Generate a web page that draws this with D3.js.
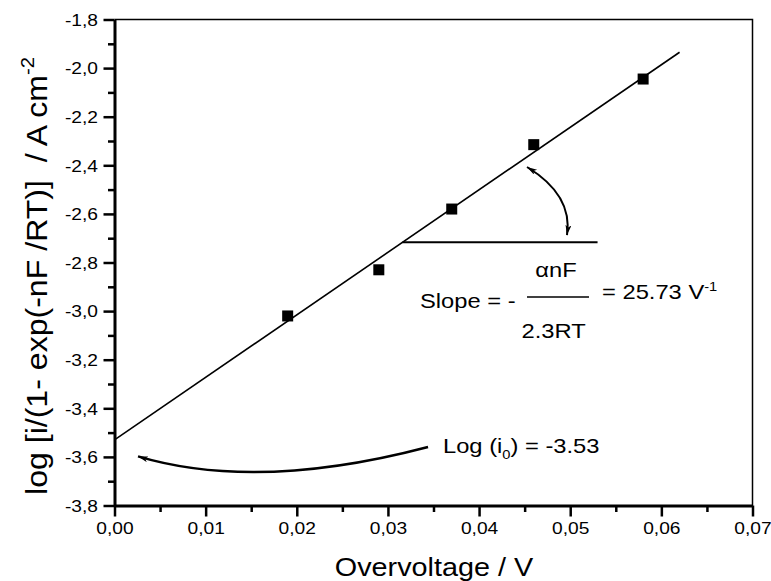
<!DOCTYPE html>
<html>
<head>
<meta charset="utf-8">
<script src="https://cdn.jsdelivr.net/npm/d3@7"></script>
<style>
  body { margin: 0; background: #fff; }
  text { font-family: "Liberation Sans", Arial, Helvetica, sans-serif; fill: #000; }
</style>
</head>
<body>
<div id="chart"></div>
<script>
// measured points
const overvoltage = [0.019, 0.029, 0.037, 0.046, 0.058];
const logCurrent = [-3.02, -2.83, -2.58, -2.315, -2.045];

// linear fit (Tafel-like plot)
const fitIntercept = -3.53;
const fitSlope = 25.73;
const fitRange = [0, 0.062];

// axis ticks
const xTicks = [0, 0.01, 0.02, 0.03, 0.04, 0.05, 0.06, 0.07];
const xMinorTicks = [0.005, 0.015, 0.025, 0.035, 0.045, 0.055, 0.065];
const yTicks = [-1.8, -2.0, -2.2, -2.4, -2.6, -2.8, -3.0, -3.2, -3.4, -3.6, -3.8];
const yMinorTicks = [-1.9, -2.1, -2.3, -2.5, -2.7, -2.9, -3.1, -3.3, -3.5, -3.7];

// annotation anchors, in data units
const slopeRefX = [0.0316, 0.053];
const slopeArrow = [[0.04526, -2.407], [0.0503, -2.522], [0.04965, -2.687]];
const interceptArrow = [[0.0344, -3.559], [0.01564, -3.744], [0.00258, -3.598]];

const width = 771, height = 581;
const margin = { top: 19.5, right: 18.5, bottom: 75.5, left: 114.5 };
const innerW = width - margin.left - margin.right,
      innerH = height - margin.top - margin.bottom;
const sx = 1.13; // text in the original is a bit wider than Arial

const svg = d3.select("#chart")
    .append("svg")
    .attr("width", width)
    .attr("height", height);

const defs = svg.append("defs");
defs.append("marker")
    .attr("id", "head")
    .attr("markerUnits", "userSpaceOnUse")
    .attr("markerWidth", 12)
    .attr("markerHeight", 8)
    .attr("refX", 10)
    .attr("refY", 3)
    .attr("orient", "auto-start-reverse")
    .append("path")
    .attr("d", "M0,0 L10,3 L0,6 L2.5,3 Z")
    .attr("fill", "#000");

const g = svg.append("g")
    .attr("transform", `translate(${margin.left},${margin.top})`);

const x = d3.scaleLinear().domain([0, 0.07]).range([0, innerW]);
const y = d3.scaleLinear().domain([-3.8, -1.8]).range([innerH, 0]);

const fmt2 = d => d3.format(".2f")(d).replace(".", ",");
const fmt1 = d => d3.format(".1f")(d).replace(".", ",").replace("−", "-");

// frame top and right (thin)
g.append("path")
    .attr("d", `M0,0 H${innerW} V${innerH}`)
    .attr("fill", "none")
    .attr("stroke", "#000")
    .attr("stroke-width", 1.5);

// minor ticks
g.append("g")
    .attr("transform", `translate(0,${innerH})`)
    .call(d3.axisBottom(x).tickValues(xMinorTicks).tickSize(6.5).tickSizeOuter(0).tickFormat(""))
    .call(a => a.select(".domain").remove())
    .call(a => a.selectAll("line").attr("stroke-width", 2.5));
g.append("g")
    .call(d3.axisLeft(y).tickValues(yMinorTicks).tickSize(6.5).tickSizeOuter(0).tickFormat(""))
    .call(a => a.select(".domain").remove())
    .call(a => a.selectAll("line").attr("stroke-width", 2.5));

// major axes
const xAxis = g.append("g")
    .attr("transform", `translate(0,${innerH})`)
    .call(d3.axisBottom(x).tickValues(xTicks).tickSize(11).tickSizeOuter(0).tickFormat(fmt2));
xAxis.select(".domain").attr("stroke-width", 3);
xAxis.selectAll("line").attr("stroke-width", 2.5);
xAxis.selectAll("text")
    .attr("y", 16.5)
    .attr("dy", "0.71em")
    .attr("transform", `scale(${sx},1)`)
    .style("font-size", "17px")
    .attr("fill", "#000");

const yAxis = g.append("g")
    .call(d3.axisLeft(y).tickValues(yTicks).tickSize(11).tickSizeOuter(0).tickFormat(fmt1));
yAxis.select(".domain").attr("stroke-width", 3);
yAxis.selectAll("line").attr("stroke-width", 2.5);
yAxis.selectAll("text")
    .attr("x", -16.5 / sx)
    .attr("dy", "0.34em")
    .attr("transform", `scale(${sx},1)`)
    .style("font-size", "17px")
    .attr("fill", "#000");

// fitted line
g.append("line")
    .attr("x1", x(fitRange[0]))
    .attr("y1", y(fitIntercept + fitSlope * fitRange[0]))
    .attr("x2", x(fitRange[1]))
    .attr("y2", y(fitIntercept + fitSlope * fitRange[1]))
    .attr("stroke", "#000")
    .attr("stroke-width", 1.6);

// data squares
const size = 11;
g.selectAll("rect.pt")
    .data(overvoltage)
    .join("rect")
    .attr("class", "pt")
    .attr("x", d => x(d) - size / 2)
    .attr("y", (d, i) => y(logCurrent[i]) - size / 2)
    .attr("width", size)
    .attr("height", size)
    .attr("fill", "#000");

// slope reference line + angle arrow
const refY = fitIntercept + fitSlope * slopeRefX[0];
g.append("line")
    .attr("x1", x(slopeRefX[0])).attr("y1", y(refY))
    .attr("x2", x(slopeRefX[1])).attr("y2", y(refY))
    .attr("stroke", "#000")
    .attr("stroke-width", 2);

const curve = pts => `M${x(pts[0][0])},${y(pts[0][1])} Q${x(pts[1][0])},${y(pts[1][1])} ${x(pts[2][0])},${y(pts[2][1])}`;

g.append("path")
    .attr("d", curve(slopeArrow))
    .attr("fill", "none")
    .attr("stroke", "#000")
    .attr("stroke-width", 2)
    .attr("marker-start", "url(#head)")
    .attr("marker-end", "url(#head)");

g.append("path")
    .attr("d", curve(interceptArrow))
    .attr("fill", "none")
    .attr("stroke", "#000")
    .attr("stroke-width", 2.5)
    .attr("marker-end", "url(#head)");

// helper for the slightly wide text
function label(px, py, anchor, fs) {
    return g.append("text")
        .attr("transform", `translate(${px},${py}) scale(${sx},1)`)
        .attr("text-anchor", anchor)
        .style("font-size", fs + "px");
}

// slope formula
label(x(0.03352), y(-2.987), "start", 21).text("Slope = -");
label(x(0.04844), y(-2.860), "middle", 21).text("αnF");
label(x(0.04817), y(-3.111), "middle", 21).text("2.3RT");
g.append("line")
    .attr("x1", x(0.04526)).attr("x2", x(0.05206))
    .attr("y1", y(-2.942)).attr("y2", y(-2.942))
    .attr("stroke", "#000")
    .attr("stroke-width", 1.3);
const eq = label(x(0.05349), y(-2.950), "start", 21);
eq.append("tspan").text("= 25.73 V");
eq.append("tspan").attr("dy", -8).style("font-size", "13px").text("-1");

// intercept label
const li = label(x(0.03604), y(-3.584), "start", 21);
li.append("tspan").text("Log (i");
li.append("tspan").attr("dy", 6).style("font-size", "13px").text("0");
li.append("tspan").attr("dy", -6).text(") = -3.53");

// axis titles
svg.append("text")
    .attr("transform", `translate(434,576) scale(${sx},1)`)
    .attr("text-anchor", "middle")
    .style("font-size", "25.5px")
    .text("Overvoltage / V");

const yt = svg.append("text")
    .attr("xml:space", "preserve")
    .attr("transform", "translate(47,495) rotate(-90) scale(1.07,1)")
    .attr("text-anchor", "start")
    .style("font-size", "30px");
yt.append("tspan").text("log [i/(1- exp(-nF /RT)]  / A cm");
yt.append("tspan").attr("dy", -13).style("font-size", "19px").text("-2");
</script>
</body>
</html>
